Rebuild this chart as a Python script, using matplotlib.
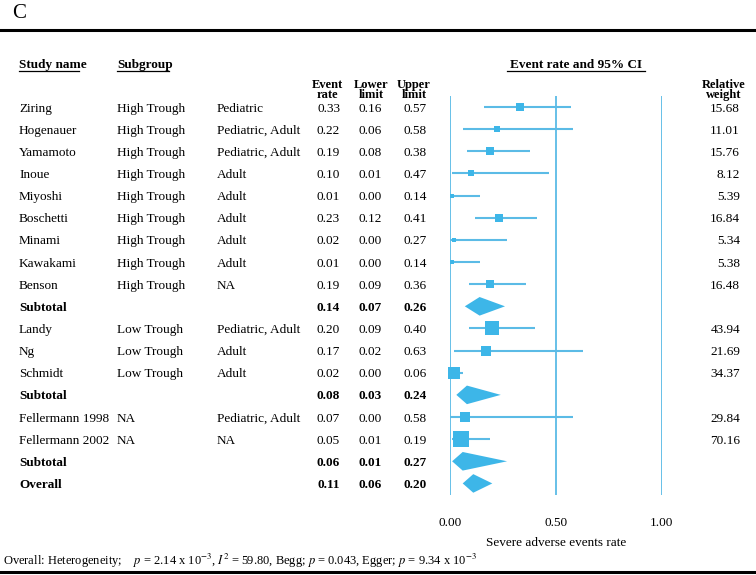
import numpy as np
import matplotlib
matplotlib.use("Agg")
import matplotlib.pyplot as plt
from matplotlib import transforms
from matplotlib.lines import Line2D

plt.rcParams['font.family'] = ['Liberation Serif', 'DejaVu Serif']
plt.rcParams['mathtext.fontset'] = 'stix'

# data
studies = ["Ziring", "Hogenauer", "Yamamoto", "Inoue", "Miyoshi", "Boschetti",
           "Minami", "Kawakami", "Benson", "Subtotal", "Landy", "Ng", "Schmidt",
           "Subtotal", "Fellermann 1998", "Fellermann 2002", "Subtotal", "Overall"]
subgroup = ["High Trough"] * 9 + ["", "Low Trough", "Low Trough", "Low Trough",
                                  "", "NA", "NA", "", ""]
population = ["Pediatric", "Pediatric, Adult", "Pediatric, Adult", "Adult", "Adult",
              "Adult", "Adult", "Adult", "NA", "", "Pediatric, Adult", "Adult",
              "Adult", "", "Pediatric, Adult", "NA", "", ""]
event = [0.33, 0.22, 0.19, 0.10, 0.01, 0.23, 0.02, 0.01, 0.19, 0.14,
         0.20, 0.17, 0.02, 0.08, 0.07, 0.05, 0.06, 0.11]
lower = [0.16, 0.06, 0.08, 0.01, 0.00, 0.12, 0.00, 0.00, 0.09, 0.07,
         0.09, 0.02, 0.00, 0.03, 0.00, 0.01, 0.01, 0.06]
upper = [0.57, 0.58, 0.38, 0.47, 0.14, 0.41, 0.27, 0.14, 0.36, 0.26,
         0.40, 0.63, 0.06, 0.24, 0.58, 0.19, 0.27, 0.20]
weight = [15.68, 11.01, 15.76, 8.12, 5.39, 16.84, 5.34, 5.38, 16.48, None,
          43.94, 21.69, 34.37, None, 29.84, 70.16, None, None]
ticks = [0.0, 0.5, 1.0]
tick_labels = ["0.00", "0.50", "1.00"]

W, H = 756, 575
BLUE = '#3db6e8'
LINE = '#5bbbe6'
FS = 9.5


def fx(x):
    return x / W


def fy(y):
    return 1 - y / H


fig = plt.figure(figsize=(W / 100, H / 100), dpi=100)
ax = fig.add_axes([fx(450), fy(494.5), 211.5 / W, (494.5 - 96) / H])
n = len(studies)
ax.set_xlim(0, 1)
ax.set_ylim(n - 0.5, -0.5)
for s in ax.spines.values():
    s.set_visible(False)
ax.set_yticks([])
ax.set_xticks(ticks, tick_labels)
ax.tick_params(axis='x', length=0, pad=16, labelsize=FS)
ax.set_xlabel("Severe adverse events rate", fontsize=FS, labelpad=6)

for t in ticks:
    ax.axvline(t, color=LINE, lw=1.3, zorder=1)

for i in range(n):
    is_sum = weight[i] is None
    if is_sum:
        ax.fill([lower[i], event[i], upper[i], event[i]],
                [i, i - 0.42, i, i + 0.42], color=BLUE, lw=0, zorder=3, clip_on=False)
    else:
        ax.plot([lower[i], upper[i]], [i, i], color=LINE, lw=1.5, zorder=2,
                solid_capstyle='butt', clip_on=False)
        ax.plot(event[i], i, marker='s', color=BLUE, mew=0,
                ms=2.0 * np.sqrt(weight[i]) * 0.72, zorder=3, clip_on=False)

# table columns
tr = transforms.blended_transform_factory(fig.transFigure, ax.transData)
VA = 'center_baseline'
for i in range(n):
    fw = 'bold' if weight[i] is None else 'normal'
    ax.text(fx(19), i, studies[i], transform=tr, fontsize=FS, fontweight=fw, va=VA)
    ax.text(fx(117), i, subgroup[i], transform=tr, fontsize=FS, va=VA)
    ax.text(fx(217), i, population[i], transform=tr, fontsize=FS, va=VA)
    for xr, val in [(340, event[i]), (382, lower[i]), (427, upper[i])]:
        ax.text(fx(xr), i, f"{val:.2f}", transform=tr, fontsize=FS, fontweight=fw,
                va=VA, ha='right')
    if weight[i] is not None:
        ax.text(fx(740), i, f"{weight[i]:.2f}", transform=tr, fontsize=FS,
                va=VA, ha='right')

# headers
fig.text(fx(19), fy(65), "Study name", fontsize=FS, fontweight='bold', va='center')
fig.text(fx(117), fy(65), "Subgroup", fontsize=FS, fontweight='bold', va='center')
fig.text(fx(576), fy(65), "Event rate and 95% CI", fontsize=FS, fontweight='bold',
         va='center', ha='center')
for xc, txt in [(327, "Event\nrate"), (371, "Lower\nlimit"), (414, "Upper\nlimit"),
                (724, "Relative\nweight")]:
    fig.text(fx(xc), fy(90), txt, fontsize=FS - 0.5, fontweight='bold', va='center',
             ha='center', linespacing=0.8)
for x0, x1 in [(19, 79), (117, 169), (507, 645)]:
    fig.add_artist(Line2D([fx(x0), fx(x1)], [fy(71)] * 2, color='black', lw=0.9,
                          transform=fig.transFigure))

# panel letter and frame lines
fig.text(fx(12), fy(14), "C", fontsize=15, va='center')
fig.add_artist(Line2D([0, 1], [fy(30)] * 2, color='black', lw=2.2, transform=fig.transFigure))
fig.add_artist(Line2D([0, 1], [fy(572)] * 2, color='black', lw=2.2, transform=fig.transFigure))

fig.text(fx(3), fy(561),
         r"Overall: Heterogeneity;    $p$ = 2.14 x 10$^{-3}$, $I^2$ = 59.80, Begg; "
         r"$p$ = 0.043, Egger; $p$ = 9.34 x 10$^{-3}$",
         fontsize=9, va='center')

fig.savefig("out.png", dpi=100)
